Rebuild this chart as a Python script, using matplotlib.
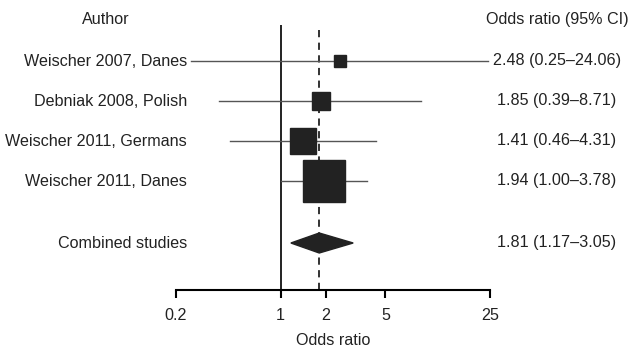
import matplotlib.pyplot as plt
import matplotlib.transforms as mtransforms
from matplotlib.patches import Polygon

# =========================
# DADOS
# =========================
estudos = ["Weischer 2007, Danes", "Debniak 2008, Polish",
           "Weischer 2011, Germans", "Weischer 2011, Danes"]
odds = [2.48, 1.85, 1.41, 1.94]
ic_inf = [0.25, 0.39, 0.46, 1.00]
ic_sup = [24.06, 8.71, 4.31, 3.78]

combinado_nome = "Combined studies"
combinado_or = 1.81
combinado_inf = 1.17
combinado_sup = 3.05

ticks = [0.2, 1, 2, 5, 25]
tick_labels = ["0.2", "1", "2", "5", "25"]

# tamanho dos quadrados (pt), proporcional ao peso
tam_box = [8.6, 13, 18.5, 30.5]

plt.rcParams["font.family"] = ["Liberation Sans", "DejaVu Sans"]
COR_TXT = "#222222"
FS = 11.6

W, H = 628, 347
fig = plt.figure(figsize=(W / 100, H / 100), dpi=100)
ax = fig.add_axes([176 / W, (H - 290) / H, 314 / W, (290 - 25) / H])

ax.set_xscale("log")
ax.set_xlim(0.2, 25)
ax.set_ylim(5.725, -0.9)

# posições das linhas
y_rows = list(range(len(estudos)))
y_comb = 4.55
y_head = -1.03

# linha de nulidade e linha do efeito combinado
ax.axvline(1, color="#222222", lw=1.4, zorder=1)
ax.axvline(combinado_or, color="#222222", lw=1.3, ls=(0, (4, 3)), zorder=1)

for y, o, lo, hi, s in zip(y_rows, odds, ic_inf, ic_sup, tam_box):
    ax.plot([lo, hi], [y, y], color="#555555", lw=1.0, zorder=2)
    ax.plot(o, y, marker="s", ms=s, color="#222222", mec="#222222", zorder=3)

h = 0.25
ax.add_patch(Polygon([(combinado_inf, y_comb), (combinado_or, y_comb - h),
                      (combinado_sup, y_comb), (combinado_or, y_comb + h)],
                     closed=True, color="#222222", zorder=3))

# eixos
for lado in ["top", "right", "left"]:
    ax.spines[lado].set_visible(False)
ax.spines["bottom"].set_linewidth(1.5)
ax.set_yticks([])
ax.set_xticks(ticks)
ax.set_xticklabels(tick_labels)
ax.minorticks_off()
ax.tick_params(axis="x", direction="out", length=6, width=1.5, pad=7,
               labelsize=FS, labelcolor=COR_TXT)
ax.set_xlabel("Odds ratio", fontsize=FS, color=COR_TXT, labelpad=7)

# textos laterais
trans = mtransforms.blended_transform_factory(fig.transFigure, ax.transData)
ax.text(106 / W, y_head, "Author", transform=trans, ha="center", va="center",
        fontsize=FS, color=COR_TXT)
ax.text(557 / W, y_head, "Odds ratio (95% CI)", transform=trans, ha="center",
        va="center", fontsize=FS, color=COR_TXT)

for y, nome, o, lo, hi in zip(y_rows, estudos, odds, ic_inf, ic_sup):
    ax.text(187 / W, y, nome, transform=trans, ha="right", va="center",
            fontsize=FS, color=COR_TXT)
    ax.text(557 / W, y, f"{o:.2f} ({lo:.2f}\u2013{hi:.2f})", transform=trans,
            ha="center", va="center", fontsize=FS, color=COR_TXT)

ax.text(187 / W, y_comb, combinado_nome, transform=trans, ha="right",
        va="center", fontsize=FS, color=COR_TXT)
ax.text(557 / W, y_comb,
        f"{combinado_or:.2f} ({combinado_inf:.2f}\u2013{combinado_sup:.2f})",
        transform=trans, ha="center", va="center", fontsize=FS, color=COR_TXT)

fig.savefig("out.png", dpi=100)
